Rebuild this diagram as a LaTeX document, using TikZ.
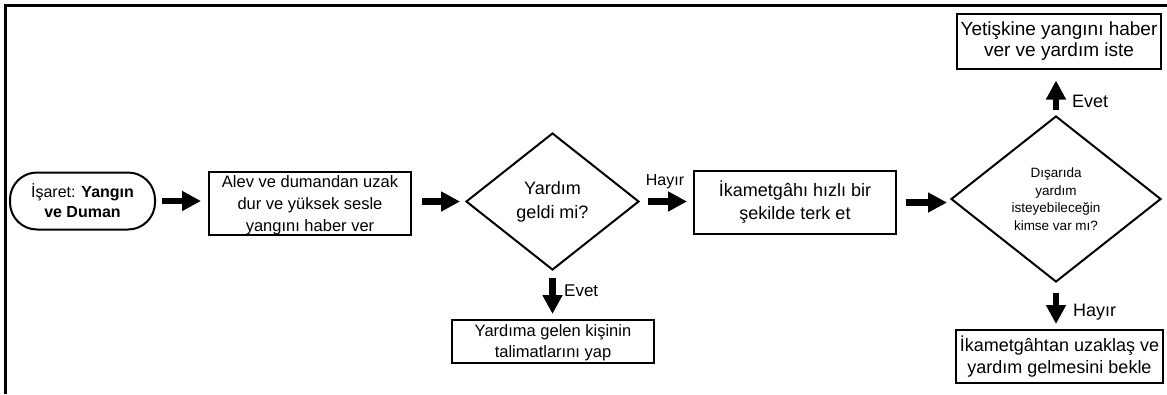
\documentclass[tikz,border=0pt]{standalone}
\usepackage{fontspec}
\setmainfont{Liberation Sans}
\usetikzlibrary{shapes.geometric,arrows.meta,calc}
\newcommand{\fsz}[2]{\fontsize{#1}{#2}\selectfont}
\begin{document}
\begin{tikzpicture}[x=1pt,y=-1pt,
  boxx/.style={draw,line width=2pt,rectangle,align=center,inner sep=0pt},
  startbox/.style={draw,line width=2pt,rectangle,rounded corners=27pt,align=center,inner sep=0pt},
  dia/.style={draw,line width=2pt,diamond,align=center,inner sep=0pt},
  blk/.style={line width=6.5pt,-{Triangle[length=19pt,width=19pt]}},
  lbl/.style={inner sep=0pt}
]
\useasboundingbox (0,0) rectangle (1167,394);
\draw[line width=3pt] (5.5,394) -- (5.5,5.5) -- (1167,5.5);

\node[startbox,minimum width=145pt,minimum height=57pt,font=\fsz{16}{20}] (start) at (82.5,201)
  {İşaret: \textbf{Yangın}\\\textbf{ve Duman}};
\node[boxx,minimum width=202pt,minimum height=63pt,text depth=0pt,font=\fsz{16.5}{22}] (alev) at (310,203.5)
  {Alev ve dumandan uzak\\dur ve yüksek sesle\\yangını haber ver};
\node[dia,minimum width=173pt,minimum height=137pt,font=\fsz{18}{24}] (d1) at (552.5,201.5)
  {Yardım\\geldi mi?};
\node[boxx,minimum width=202pt,minimum height=63pt,font=\fsz{18}{23}] (ikam) at (795,202.5)
  {İkametgâhı hızlı bir\\şekilde terk et};
\node[dia,minimum width=210pt,minimum height=166pt,font=\fsz{13.5}{17.5}] (d2) at (1056,199)
  {Dışarıda\\yardım\\isteyebileceğin\\kimse var mı?};
\node[boxx,minimum width=202pt,minimum height=43pt,text depth=0pt,font=\fsz{16.5}{21}] (yard) at (553,341.5)
  {Yardıma gelen kişinin\\talimatlarını yap};
\node[boxx,minimum width=204pt,minimum height=55pt,font=\fsz{19}{21.5}] (yet) at (1059,41)
  {Yetişkine yangını haber\\ver ve yardım iste};
\node[boxx,minimum width=207pt,minimum height=53pt,font=\fsz{18}{21.5}] (ikam2) at (1059.5,356.5)
  {İkametgâhtan uzaklaş ve\\yardım gelmesini bekle};

\draw[blk,shorten <=6pt,shorten >=7pt] (start.east) -- (start.east -| alev.west);
\draw[blk,shorten <=10pt,shorten >=5pt] (alev.east |- d1.west) -- (d1.west);
\draw[blk,shorten <=8pt,shorten >=6pt] (d1.east) -- (d1.east -| ikam.west);
\draw[blk,shorten <=9pt,shorten >=3pt] (ikam.east) -- (ikam.east -| d2.west);
\draw[blk,shorten <=7pt,shorten >=5pt] (d1.south) -- (d1.south |- yard.north);
\draw[blk,shorten <=5pt,shorten >=11pt] (d2.north) -- (d2.north |- yet.south);
\draw[blk,shorten <=10pt,shorten >=5pt] (d2.south) -- (d2.south |- ikam2.north);

\node[lbl,font=\fsz{16}{18}] (lh1) at (665,182) {Hayır};
\node[lbl,anchor=west,font=\fsz{17}{19}] (le1) at (564,291) {Evet};
\node[lbl,anchor=west,font=\fsz{18}{20}] (le2) at (1072,101) {Evet};
\node[lbl,anchor=west,font=\fsz{18}{20}] (lh2) at (1073,312) {Hayır};
\end{tikzpicture}
\end{document}
